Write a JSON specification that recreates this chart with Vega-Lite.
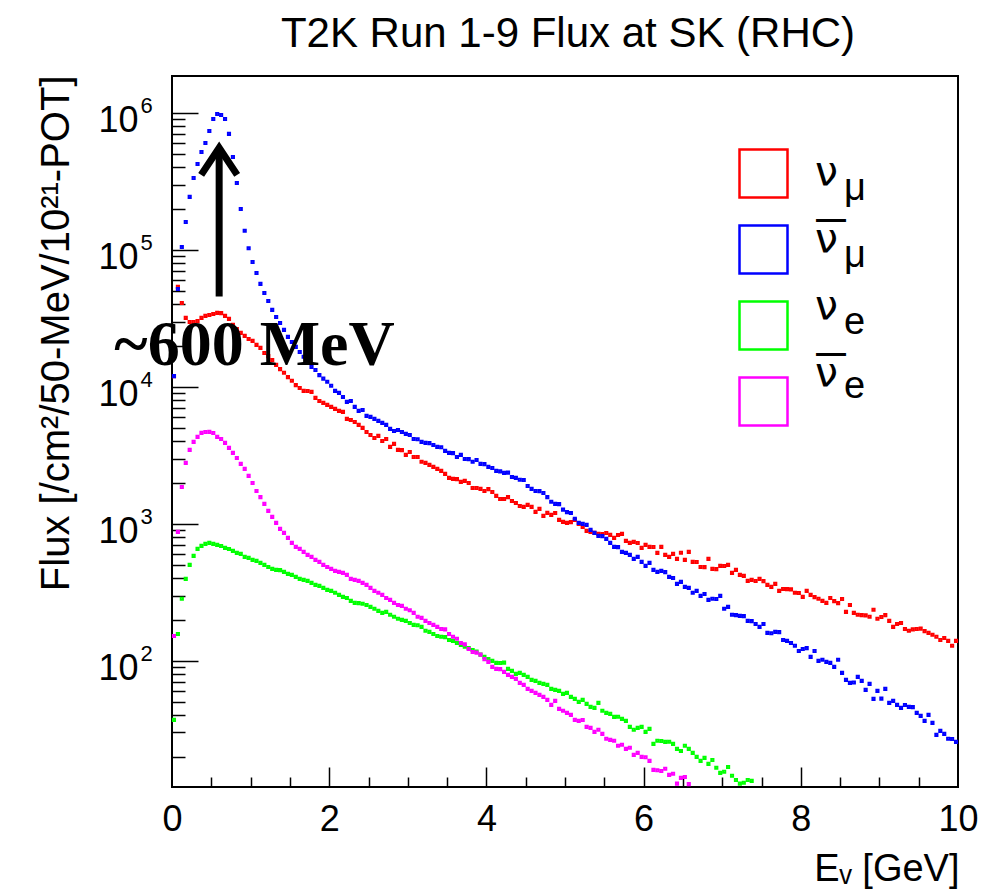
{
"$schema": "https://vega.github.io/schema/vega-lite/v6.json",
"width": 786, "height": 711,
"autosize": {"type": "none"},
"padding": {"left": 172, "top": 76, "right": 35, "bottom": 107},
"background": "white",
"title": {"text": "T2K Run 1-9 Flux at SK (RHC)", "font": "Liberation Sans", "fontSize": 42, "fontWeight": "normal", "color": "black", "anchor": "middle", "frame": "group", "baseline": "alphabetic", "offset": 25, "dx": 3, "dy": 39},
"config": {
  "view": {"stroke": "black", "strokeWidth": 2},
  "axis": {"domain": false, "grid": false, "labelColor": "black", "tickColor": "black", "titleColor": "black", "labelFont": "Liberation Sans", "titleFont": "Liberation Sans", "titleFontWeight": "normal", "labelOverlap": false, "labelFlush": false}
},
"datasets": {"flux": [
{"e":0.025,"f":12000,"s":"numu"},{"e":0.075,"f":53700,"s":"numu"},{"e":0.125,"f":41000,"s":"numu"},{"e":0.175,"f":31900,"s":"numu"},{"e":0.225,"f":29800,"s":"numu"},{"e":0.275,"f":29800,"s":"numu"},{"e":0.325,"f":30300,"s":"numu"},{"e":0.375,"f":31900,"s":"numu"},{"e":0.425,"f":33000,"s":"numu"},{"e":0.475,"f":33500,"s":"numu"},
{"e":0.525,"f":34100,"s":"numu"},{"e":0.575,"f":34700,"s":"numu"},{"e":0.625,"f":34600,"s":"numu"},{"e":0.675,"f":33000,"s":"numu"},{"e":0.725,"f":31400,"s":"numu"},{"e":0.775,"f":28400,"s":"numu"},{"e":0.825,"f":26500,"s":"numu"},{"e":0.875,"f":24800,"s":"numu"},{"e":0.925,"f":23600,"s":"numu"},{"e":0.975,"f":22400,"s":"numu"},
{"e":1.025,"f":21700,"s":"numu"},{"e":1.075,"f":20300,"s":"numu"},{"e":1.125,"f":19300,"s":"numu"},{"e":1.175,"f":17700,"s":"numu"},{"e":1.225,"f":16800,"s":"numu"},{"e":1.275,"f":15700,"s":"numu"},{"e":1.325,"f":14500,"s":"numu"},{"e":1.375,"f":13500,"s":"numu"},{"e":1.425,"f":12700,"s":"numu"},{"e":1.475,"f":11800,"s":"numu"},
{"e":1.525,"f":11100,"s":"numu"},{"e":1.575,"f":10300,"s":"numu"},{"e":1.625,"f":9830,"s":"numu"},{"e":1.675,"f":9350,"s":"numu"},{"e":1.725,"f":9340,"s":"numu"},{"e":1.775,"f":9200,"s":"numu"},{"e":1.825,"f":8310,"s":"numu"},{"e":1.875,"f":7900,"s":"numu"},{"e":1.925,"f":7640,"s":"numu"},{"e":1.975,"f":7390,"s":"numu"},
{"e":2.025,"f":7150,"s":"numu"},{"e":2.075,"f":6910,"s":"numu"},{"e":2.125,"f":6680,"s":"numu"},{"e":2.175,"f":6570,"s":"numu"},{"e":2.225,"f":5840,"s":"numu"},{"e":2.275,"f":5740,"s":"numu"},{"e":2.325,"f":5550,"s":"numu"},{"e":2.375,"f":5280,"s":"numu"},{"e":2.425,"f":5020,"s":"numu"},{"e":2.475,"f":4690,"s":"numu"},
{"e":2.525,"f":4460,"s":"numu"},{"e":2.575,"f":4240,"s":"numu"},{"e":2.625,"f":4390,"s":"numu"},{"e":2.675,"f":4030,"s":"numu"},{"e":2.725,"f":4170,"s":"numu"},{"e":2.775,"f":3650,"s":"numu"},{"e":2.825,"f":3840,"s":"numu"},{"e":2.875,"f":3470,"s":"numu"},{"e":2.925,"f":3460,"s":"numu"},{"e":2.975,"f":3190,"s":"numu"},
{"e":3.025,"f":3350,"s":"numu"},{"e":3.075,"f":3080,"s":"numu"},{"e":3.125,"f":3080,"s":"numu"},{"e":3.175,"f":2840,"s":"numu"},{"e":3.225,"f":2790,"s":"numu"},{"e":3.275,"f":2700,"s":"numu"},{"e":3.325,"f":2610,"s":"numu"},{"e":3.375,"f":2520,"s":"numu"},{"e":3.425,"f":2440,"s":"numu"},{"e":3.475,"f":2320,"s":"numu"},
{"e":3.525,"f":2170,"s":"numu"},{"e":3.575,"f":2130,"s":"numu"},{"e":3.625,"f":2125,"s":"numu"},{"e":3.675,"f":2025,"s":"numu"},{"e":3.725,"f":2060,"s":"numu"},{"e":3.775,"f":1990,"s":"numu"},{"e":3.825,"f":1830,"s":"numu"},{"e":3.875,"f":1828,"s":"numu"},{"e":3.925,"f":1800,"s":"numu"},{"e":3.975,"f":1740,"s":"numu"},
{"e":4.025,"f":1795,"s":"numu"},{"e":4.075,"f":1710,"s":"numu"},{"e":4.125,"f":1600,"s":"numu"},{"e":4.175,"f":1520,"s":"numu"},{"e":4.225,"f":1520,"s":"numu"},{"e":4.275,"f":1570,"s":"numu"},{"e":4.325,"f":1470,"s":"numu"},{"e":4.375,"f":1420,"s":"numu"},{"e":4.425,"f":1350,"s":"numu"},{"e":4.475,"f":1330,"s":"numu"},
{"e":4.525,"f":1376,"s":"numu"},{"e":4.575,"f":1330,"s":"numu"},{"e":4.625,"f":1224,"s":"numu"},{"e":4.675,"f":1287,"s":"numu"},{"e":4.725,"f":1145,"s":"numu"},{"e":4.775,"f":1204,"s":"numu"},{"e":4.825,"f":1164,"s":"numu"},{"e":4.875,"f":1200,"s":"numu"},{"e":4.925,"f":1070,"s":"numu"},{"e":4.975,"f":1034,"s":"numu"},
{"e":5.025,"f":1017,"s":"numu"},{"e":5.075,"f":1030,"s":"numu"},{"e":5.125,"f":1068,"s":"numu"},{"e":5.175,"f":1000,"s":"numu"},{"e":5.225,"f":951,"s":"numu"},{"e":5.275,"f":889,"s":"numu"},{"e":5.325,"f":874,"s":"numu"},{"e":5.375,"f":860,"s":"numu"},{"e":5.425,"f":845,"s":"numu"},{"e":5.475,"f":843,"s":"numu"},
{"e":5.525,"f":858,"s":"numu"},{"e":5.575,"f":831,"s":"numu"},{"e":5.625,"f":790,"s":"numu"},{"e":5.675,"f":829,"s":"numu"},{"e":5.725,"f":845,"s":"numu"},{"e":5.775,"f":752,"s":"numu"},{"e":5.825,"f":727,"s":"numu"},{"e":5.875,"f":739,"s":"numu"},{"e":5.925,"f":725,"s":"numu"},{"e":5.975,"f":668,"s":"numu"},
{"e":6.025,"f":703,"s":"numu"},{"e":6.075,"f":679,"s":"numu"},{"e":6.125,"f":678,"s":"numu"},{"e":6.175,"f":614,"s":"numu"},{"e":6.225,"f":680,"s":"numu"},{"e":6.275,"f":594,"s":"numu"},{"e":6.325,"f":574,"s":"numu"},{"e":6.375,"f":604,"s":"numu"},{"e":6.425,"f":555,"s":"numu"},{"e":6.475,"f":616,"s":"numu"},
{"e":6.525,"f":546,"s":"numu"},{"e":6.575,"f":625,"s":"numu"},{"e":6.625,"f":528,"s":"numu"},{"e":6.675,"f":527,"s":"numu"},{"e":6.725,"f":485,"s":"numu"},{"e":6.775,"f":484,"s":"numu"},{"e":6.825,"f":556,"s":"numu"},{"e":6.875,"f":469,"s":"numu"},{"e":6.925,"f":468,"s":"numu"},{"e":6.975,"f":494,"s":"numu"},
{"e":7.025,"f":493,"s":"numu"},{"e":7.075,"f":502,"s":"numu"},{"e":7.125,"f":439,"s":"numu"},{"e":7.175,"f":462,"s":"numu"},{"e":7.225,"f":424,"s":"numu"},{"e":7.275,"f":417,"s":"numu"},{"e":7.325,"f":384,"s":"numu"},{"e":7.375,"f":390,"s":"numu"},{"e":7.425,"f":383,"s":"numu"},{"e":7.475,"f":397,"s":"numu"},
{"e":7.525,"f":382,"s":"numu"},{"e":7.575,"f":359,"s":"numu"},{"e":7.625,"f":347,"s":"numu"},{"e":7.675,"f":365,"s":"numu"},{"e":7.725,"f":324,"s":"numu"},{"e":7.775,"f":335,"s":"numu"},{"e":7.825,"f":334,"s":"numu"},{"e":7.875,"f":333,"s":"numu"},{"e":7.925,"f":314,"s":"numu"},{"e":7.975,"f":313,"s":"numu"},
{"e":8.025,"f":293,"s":"numu"},{"e":8.075,"f":324,"s":"numu"},{"e":8.125,"f":303,"s":"numu"},{"e":8.175,"f":292,"s":"numu"},{"e":8.225,"f":284,"s":"numu"},{"e":8.275,"f":274,"s":"numu"},{"e":8.325,"f":265,"s":"numu"},{"e":8.375,"f":288,"s":"numu"},{"e":8.425,"f":273,"s":"numu"},{"e":8.475,"f":264,"s":"numu"},
{"e":8.525,"f":283,"s":"numu"},{"e":8.575,"f":228,"s":"numu"},{"e":8.625,"f":256,"s":"numu"},{"e":8.675,"f":224,"s":"numu"},{"e":8.725,"f":217,"s":"numu"},{"e":8.775,"f":216,"s":"numu"},{"e":8.825,"f":215,"s":"numu"},{"e":8.875,"f":210,"s":"numu"},{"e":8.925,"f":236,"s":"numu"},{"e":8.975,"f":203,"s":"numu"},
{"e":9.025,"f":209,"s":"numu"},{"e":9.075,"f":216,"s":"numu"},{"e":9.125,"f":196,"s":"numu"},{"e":9.175,"f":177,"s":"numu"},{"e":9.225,"f":186,"s":"numu"},{"e":9.275,"f":189,"s":"numu"},{"e":9.325,"f":171,"s":"numu"},{"e":9.375,"f":166,"s":"numu"},{"e":9.425,"f":170,"s":"numu"},{"e":9.475,"f":171,"s":"numu"},
{"e":9.525,"f":172,"s":"numu"},{"e":9.575,"f":165,"s":"numu"},{"e":9.625,"f":160,"s":"numu"},{"e":9.675,"f":155,"s":"numu"},{"e":9.725,"f":150,"s":"numu"},{"e":9.775,"f":142,"s":"numu"},{"e":9.825,"f":147,"s":"numu"},{"e":9.875,"f":140,"s":"numu"},{"e":9.925,"f":129,"s":"numu"},{"e":9.975,"f":140,"s":"numu"},
{"e":0.025,"f":12000,"s":"numubar"},{"e":0.075,"f":51900,"s":"numubar"},{"e":0.125,"f":105000,"s":"numubar"},{"e":0.175,"f":160000,"s":"numubar"},{"e":0.225,"f":244000,"s":"numubar"},{"e":0.275,"f":335000,"s":"numubar"},{"e":0.325,"f":424000,"s":"numubar"},{"e":0.375,"f":519000,"s":"numubar"},{"e":0.425,"f":604000,"s":"numubar"},{"e":0.475,"f":739000,"s":"numubar"},
{"e":0.525,"f":904000,"s":"numubar"},{"e":0.575,"f":983000,"s":"numubar"},{"e":0.625,"f":967000,"s":"numubar"},{"e":0.675,"f":904000,"s":"numubar"},{"e":0.725,"f":703000,"s":"numubar"},{"e":0.775,"f":477000,"s":"numubar"},{"e":0.825,"f":308000,"s":"numubar"},{"e":0.875,"f":199000,"s":"numubar"},{"e":0.925,"f":138000,"s":"numubar"},{"e":0.975,"f":103000,"s":"numubar"},
{"e":1.025,"f":81700,"s":"numubar"},{"e":1.075,"f":67900,"s":"numubar"},{"e":1.125,"f":56500,"s":"numubar"},{"e":1.175,"f":48500,"s":"numubar"},{"e":1.225,"f":42400,"s":"numubar"},{"e":1.275,"f":36500,"s":"numubar"},{"e":1.325,"f":32400,"s":"numubar"},{"e":1.375,"f":29300,"s":"numubar"},{"e":1.425,"f":26100,"s":"numubar"},{"e":1.475,"f":23200,"s":"numubar"},
{"e":1.525,"f":21300,"s":"numubar"},{"e":1.575,"f":19600,"s":"numubar"},{"e":1.625,"f":18000,"s":"numubar"},{"e":1.675,"f":16600,"s":"numubar"},{"e":1.725,"f":15200,"s":"numubar"},{"e":1.775,"f":14000,"s":"numubar"},{"e":1.825,"f":13300,"s":"numubar"},{"e":1.875,"f":12200,"s":"numubar"},{"e":1.925,"f":11500,"s":"numubar"},{"e":1.975,"f":10900,"s":"numubar"},
{"e":2.025,"f":10200,"s":"numubar"},{"e":2.075,"f":9350,"s":"numubar"},{"e":2.125,"f":9040,"s":"numubar"},{"e":2.175,"f":8450,"s":"numubar"},{"e":2.225,"f":7770,"s":"numubar"},{"e":2.275,"f":7900,"s":"numubar"},{"e":2.325,"f":7150,"s":"numubar"},{"e":2.375,"f":6680,"s":"numubar"},{"e":2.425,"f":6790,"s":"numubar"},{"e":2.475,"f":6140,"s":"numubar"},
{"e":2.525,"f":6040,"s":"numubar"},{"e":2.575,"f":5840,"s":"numubar"},{"e":2.625,"f":5650,"s":"numubar"},{"e":2.675,"f":5460,"s":"numubar"},{"e":2.725,"f":5280,"s":"numubar"},{"e":2.775,"f":4940,"s":"numubar"},{"e":2.825,"f":4770,"s":"numubar"},{"e":2.875,"f":4850,"s":"numubar"},{"e":2.925,"f":4690,"s":"numubar"},{"e":2.975,"f":4540,"s":"numubar"},
{"e":3.025,"f":4460,"s":"numubar"},{"e":3.075,"f":4170,"s":"numubar"},{"e":3.125,"f":4150,"s":"numubar"},{"e":3.175,"f":3970,"s":"numubar"},{"e":3.225,"f":3900,"s":"numubar"},{"e":3.275,"f":3890,"s":"numubar"},{"e":3.325,"f":3770,"s":"numubar"},{"e":3.375,"f":3650,"s":"numubar"},{"e":3.425,"f":3630,"s":"numubar"},{"e":3.475,"f":3410,"s":"numubar"},
{"e":3.525,"f":3300,"s":"numubar"},{"e":3.575,"f":3290,"s":"numubar"},{"e":3.625,"f":3080,"s":"numubar"},{"e":3.675,"f":3190,"s":"numubar"},{"e":3.725,"f":2980,"s":"numubar"},{"e":3.775,"f":2970,"s":"numubar"},{"e":3.825,"f":2840,"s":"numubar"},{"e":3.875,"f":2930,"s":"numubar"},{"e":3.925,"f":2740,"s":"numubar"},{"e":3.975,"f":2730,"s":"numubar"},
{"e":4.025,"f":2610,"s":"numubar"},{"e":4.075,"f":2560,"s":"numubar"},{"e":4.125,"f":2440,"s":"numubar"},{"e":4.175,"f":2420,"s":"numubar"},{"e":4.225,"f":2360,"s":"numubar"},{"e":4.275,"f":2370,"s":"numubar"},{"e":4.325,"f":2200,"s":"numubar"},{"e":4.375,"f":2170,"s":"numubar"},{"e":4.425,"f":2100,"s":"numubar"},{"e":4.475,"f":2090,"s":"numubar"},
{"e":4.525,"f":1890,"s":"numubar"},{"e":4.575,"f":1800,"s":"numubar"},{"e":4.625,"f":1740,"s":"numubar"},{"e":4.675,"f":1735,"s":"numubar"},{"e":4.725,"f":1680,"s":"numubar"},{"e":4.775,"f":1570,"s":"numubar"},{"e":4.825,"f":1450,"s":"numubar"},{"e":4.875,"f":1400,"s":"numubar"},{"e":4.925,"f":1395,"s":"numubar"},{"e":4.975,"f":1270,"s":"numubar"},
{"e":5.025,"f":1220,"s":"numubar"},{"e":5.075,"f":1200,"s":"numubar"},{"e":5.125,"f":1090,"s":"numubar"},{"e":5.175,"f":1017,"s":"numubar"},{"e":5.225,"f":1000,"s":"numubar"},{"e":5.275,"f":983,"s":"numubar"},{"e":5.325,"f":904,"s":"numubar"},{"e":5.375,"f":860,"s":"numubar"},{"e":5.425,"f":817,"s":"numubar"},{"e":5.475,"f":815,"s":"numubar"},
{"e":5.525,"f":777,"s":"numubar"},{"e":5.575,"f":727,"s":"numubar"},{"e":5.625,"f":679,"s":"numubar"},{"e":5.675,"f":677,"s":"numubar"},{"e":5.725,"f":625,"s":"numubar"},{"e":5.775,"f":614,"s":"numubar"},{"e":5.825,"f":594,"s":"numubar"},{"e":5.875,"f":555,"s":"numubar"},{"e":5.925,"f":574,"s":"numubar"},{"e":5.975,"f":528,"s":"numubar"},
{"e":6.025,"f":494,"s":"numubar"},{"e":6.075,"f":519,"s":"numubar"},{"e":6.125,"f":462,"s":"numubar"},{"e":6.175,"f":446,"s":"numubar"},{"e":6.225,"f":454,"s":"numubar"},{"e":6.275,"f":445,"s":"numubar"},{"e":6.325,"f":410,"s":"numubar"},{"e":6.375,"f":403,"s":"numubar"},{"e":6.425,"f":365,"s":"numubar"},{"e":6.475,"f":377,"s":"numubar"},
{"e":6.525,"f":347,"s":"numubar"},{"e":6.575,"f":341,"s":"numubar"},{"e":6.625,"f":314,"s":"numubar"},{"e":6.675,"f":324,"s":"numubar"},{"e":6.725,"f":298,"s":"numubar"},{"e":6.775,"f":308,"s":"numubar"},{"e":6.825,"f":279,"s":"numubar"},{"e":6.875,"f":284,"s":"numubar"},{"e":6.925,"f":283,"s":"numubar"},{"e":6.975,"f":298,"s":"numubar"},
{"e":7.025,"f":240,"s":"numubar"},{"e":7.075,"f":248,"s":"numubar"},{"e":7.125,"f":217,"s":"numubar"},{"e":7.175,"f":216,"s":"numubar"},{"e":7.225,"f":213,"s":"numubar"},{"e":7.275,"f":212,"s":"numubar"},{"e":7.325,"f":196,"s":"numubar"},{"e":7.375,"f":195,"s":"numubar"},{"e":7.425,"f":186,"s":"numubar"},{"e":7.475,"f":177,"s":"numubar"},
{"e":7.525,"f":186,"s":"numubar"},{"e":7.575,"f":160,"s":"numubar"},{"e":7.625,"f":159,"s":"numubar"},{"e":7.675,"f":163,"s":"numubar"},{"e":7.725,"f":162,"s":"numubar"},{"e":7.775,"f":142,"s":"numubar"},{"e":7.825,"f":140,"s":"numubar"},{"e":7.875,"f":135,"s":"numubar"},{"e":7.925,"f":129,"s":"numubar"},{"e":7.975,"f":118,"s":"numubar"},
{"e":8.025,"f":122,"s":"numubar"},{"e":8.075,"f":124,"s":"numubar"},{"e":8.125,"f":107,"s":"numubar"},{"e":8.175,"f":118,"s":"numubar"},{"e":8.225,"f":100,"s":"numubar"},{"e":8.275,"f":102,"s":"numubar"},{"e":8.325,"f":98.3,"s":"numubar"},{"e":8.375,"f":96.7,"s":"numubar"},{"e":8.425,"f":90.4,"s":"numubar"},{"e":8.475,"f":102,"s":"numubar"},
{"e":8.525,"f":81.7,"s":"numubar"},{"e":8.575,"f":72.7,"s":"numubar"},{"e":8.625,"f":69.1,"s":"numubar"},{"e":8.675,"f":69.5,"s":"numubar"},{"e":8.725,"f":76.4,"s":"numubar"},{"e":8.775,"f":71.5,"s":"numubar"},{"e":8.825,"f":61.4,"s":"numubar"},{"e":8.875,"f":67.9,"s":"numubar"},{"e":8.925,"f":52.8,"s":"numubar"},{"e":8.975,"f":60.4,"s":"numubar"},
{"e":9.025,"f":53.0,"s":"numubar"},{"e":9.075,"f":62.5,"s":"numubar"},{"e":9.125,"f":49.4,"s":"numubar"},{"e":9.175,"f":51.1,"s":"numubar"},{"e":9.225,"f":47.7,"s":"numubar"},{"e":9.275,"f":45.4,"s":"numubar"},{"e":9.325,"f":47.6,"s":"numubar"},{"e":9.375,"f":46.2,"s":"numubar"},{"e":9.425,"f":46.0,"s":"numubar"},{"e":9.475,"f":41.7,"s":"numubar"},
{"e":9.525,"f":39.7,"s":"numubar"},{"e":9.575,"f":36.5,"s":"numubar"},{"e":9.625,"f":40.3,"s":"numubar"},{"e":9.675,"f":35.3,"s":"numubar"},{"e":9.725,"f":28.8,"s":"numubar"},{"e":9.775,"f":30.8,"s":"numubar"},{"e":9.825,"f":29.3,"s":"numubar"},{"e":9.875,"f":27.0,"s":"numubar"},{"e":9.925,"f":26.9,"s":"numubar"},{"e":9.975,"f":25.6,"s":"numubar"},
{"e":0.025,"f":37.1,"s":"nue"},{"e":0.075,"f":157,"s":"nue"},{"e":0.125,"f":284,"s":"nue"},{"e":0.175,"f":397,"s":"nue"},{"e":0.225,"f":502,"s":"nue"},{"e":0.275,"f":584,"s":"nue"},{"e":0.325,"f":657,"s":"nue"},{"e":0.375,"f":691,"s":"nue"},{"e":0.425,"f":715,"s":"nue"},{"e":0.475,"f":727,"s":"nue"},
{"e":0.525,"f":714,"s":"nue"},{"e":0.575,"f":703,"s":"nue"},{"e":0.625,"f":690,"s":"nue"},{"e":0.675,"f":668,"s":"nue"},{"e":0.725,"f":656,"s":"nue"},{"e":0.775,"f":635,"s":"nue"},{"e":0.825,"f":614,"s":"nue"},{"e":0.875,"f":604,"s":"nue"},{"e":0.925,"f":574,"s":"nue"},{"e":0.975,"f":565,"s":"nue"},
{"e":1.025,"f":546,"s":"nue"},{"e":1.075,"f":537,"s":"nue"},{"e":1.125,"f":519,"s":"nue"},{"e":1.175,"f":502,"s":"nue"},{"e":1.225,"f":485,"s":"nue"},{"e":1.275,"f":469,"s":"nue"},{"e":1.325,"f":462,"s":"nue"},{"e":1.375,"f":460,"s":"nue"},{"e":1.425,"f":446,"s":"nue"},{"e":1.475,"f":432,"s":"nue"},
{"e":1.525,"f":424,"s":"nue"},{"e":1.575,"f":410,"s":"nue"},{"e":1.625,"f":397,"s":"nue"},{"e":1.675,"f":390,"s":"nue"},{"e":1.725,"f":384,"s":"nue"},{"e":1.775,"f":371,"s":"nue"},{"e":1.825,"f":359,"s":"nue"},{"e":1.875,"f":353,"s":"nue"},{"e":1.925,"f":341,"s":"nue"},{"e":1.975,"f":330,"s":"nue"},
{"e":2.025,"f":324,"s":"nue"},{"e":2.075,"f":314,"s":"nue"},{"e":2.125,"f":303,"s":"nue"},{"e":2.175,"f":293,"s":"nue"},{"e":2.225,"f":288,"s":"nue"},{"e":2.275,"f":274,"s":"nue"},{"e":2.325,"f":265,"s":"nue"},{"e":2.375,"f":264,"s":"nue"},{"e":2.425,"f":261,"s":"nue"},{"e":2.475,"f":256,"s":"nue"},
{"e":2.525,"f":248,"s":"nue"},{"e":2.575,"f":240,"s":"nue"},{"e":2.625,"f":232,"s":"nue"},{"e":2.675,"f":224,"s":"nue"},{"e":2.725,"f":228,"s":"nue"},{"e":2.775,"f":217,"s":"nue"},{"e":2.825,"f":210,"s":"nue"},{"e":2.875,"f":203,"s":"nue"},{"e":2.925,"f":199,"s":"nue"},{"e":2.975,"f":196,"s":"nue"},
{"e":3.025,"f":189,"s":"nue"},{"e":3.075,"f":183,"s":"nue"},{"e":3.125,"f":182,"s":"nue"},{"e":3.175,"f":177,"s":"nue"},{"e":3.225,"f":166,"s":"nue"},{"e":3.275,"f":163,"s":"nue"},{"e":3.325,"f":157,"s":"nue"},{"e":3.375,"f":152,"s":"nue"},{"e":3.425,"f":150,"s":"nue"},{"e":3.475,"f":149,"s":"nue"},
{"e":3.525,"f":142,"s":"nue"},{"e":3.575,"f":140,"s":"nue"},{"e":3.625,"f":135,"s":"nue"},{"e":3.675,"f":131,"s":"nue"},{"e":3.725,"f":127,"s":"nue"},{"e":3.775,"f":124,"s":"nue"},{"e":3.825,"f":120,"s":"nue"},{"e":3.875,"f":117,"s":"nue"},{"e":3.925,"f":111,"s":"nue"},{"e":3.975,"f":107,"s":"nue"},
{"e":4.025,"f":103,"s":"nue"},{"e":4.075,"f":100,"s":"nue"},{"e":4.125,"f":96.7,"s":"nue"},{"e":4.175,"f":96.5,"s":"nue"},{"e":4.225,"f":97.0,"s":"nue"},{"e":4.275,"f":87.4,"s":"nue"},{"e":4.325,"f":84.5,"s":"nue"},{"e":4.375,"f":80.4,"s":"nue"},{"e":4.425,"f":81.7,"s":"nue"},{"e":4.475,"f":79.0,"s":"nue"},
{"e":4.525,"f":76.4,"s":"nue"},{"e":4.575,"f":72.7,"s":"nue"},{"e":4.625,"f":71.5,"s":"nue"},{"e":4.675,"f":69.1,"s":"nue"},{"e":4.725,"f":67.9,"s":"nue"},{"e":4.775,"f":66.8,"s":"nue"},{"e":4.825,"f":62.5,"s":"nue"},{"e":4.875,"f":61.4,"s":"nue"},{"e":4.925,"f":60.4,"s":"nue"},{"e":4.975,"f":57.4,"s":"nue"},
{"e":5.025,"f":58.4,"s":"nue"},{"e":5.075,"f":54.6,"s":"nue"},{"e":5.125,"f":52.8,"s":"nue"},{"e":5.175,"f":50.2,"s":"nue"},{"e":5.225,"f":51.9,"s":"nue"},{"e":5.275,"f":48.5,"s":"nue"},{"e":5.325,"f":46.2,"s":"nue"},{"e":5.375,"f":45.4,"s":"nue"},{"e":5.425,"f":49.4,"s":"nue"},{"e":5.475,"f":43.2,"s":"nue"},
{"e":5.525,"f":41.7,"s":"nue"},{"e":5.575,"f":41.0,"s":"nue"},{"e":5.625,"f":39.0,"s":"nue"},{"e":5.675,"f":39.1,"s":"nue"},{"e":5.725,"f":37.7,"s":"nue"},{"e":5.775,"f":36.5,"s":"nue"},{"e":5.825,"f":33.0,"s":"nue"},{"e":5.875,"f":31.4,"s":"nue"},{"e":5.925,"f":32.4,"s":"nue"},{"e":5.975,"f":33.0,"s":"nue"},
{"e":6.025,"f":30.3,"s":"nue"},{"e":6.075,"f":31.9,"s":"nue"},{"e":6.125,"f":24.8,"s":"nue"},{"e":6.175,"f":26.1,"s":"nue"},{"e":6.225,"f":26.0,"s":"nue"},{"e":6.275,"f":25.6,"s":"nue"},{"e":6.325,"f":25.7,"s":"nue"},{"e":6.375,"f":24.8,"s":"nue"},{"e":6.425,"f":22.8,"s":"nue"},{"e":6.475,"f":22.0,"s":"nue"},
{"e":6.525,"f":24.0,"s":"nue"},{"e":6.575,"f":22.8,"s":"nue"},{"e":6.625,"f":21.3,"s":"nue"},{"e":6.675,"f":19.9,"s":"nue"},{"e":6.725,"f":18.6,"s":"nue"},{"e":6.775,"f":19.6,"s":"nue"},{"e":6.825,"f":17.7,"s":"nue"},{"e":6.875,"f":18.9,"s":"nue"},{"e":6.925,"f":16.6,"s":"nue"},{"e":6.975,"f":15.2,"s":"nue"},
{"e":7.025,"f":15.5,"s":"nue"},{"e":7.075,"f":16.8,"s":"nue"},{"e":7.125,"f":14.5,"s":"nue"},{"e":7.175,"f":13.5,"s":"nue"},{"e":7.225,"f":12.7,"s":"nue"},{"e":7.275,"f":12.9,"s":"nue"},{"e":7.325,"f":13.5,"s":"nue"},{"e":7.375,"f":13.3,"s":"nue"},
{"e":0.025,"f":152,"s":"nuebar"},{"e":0.075,"f":874,"s":"nuebar"},{"e":0.125,"f":1860,"s":"nuebar"},{"e":0.175,"f":2790,"s":"nuebar"},{"e":0.225,"f":3470,"s":"nuebar"},{"e":0.275,"f":3970,"s":"nuebar"},{"e":0.325,"f":4320,"s":"nuebar"},{"e":0.375,"f":4620,"s":"nuebar"},{"e":0.425,"f":4690,"s":"nuebar"},{"e":0.475,"f":4700,"s":"nuebar"},
{"e":0.525,"f":4610,"s":"nuebar"},{"e":0.575,"f":4320,"s":"nuebar"},{"e":0.625,"f":4170,"s":"nuebar"},{"e":0.675,"f":3900,"s":"nuebar"},{"e":0.725,"f":3590,"s":"nuebar"},{"e":0.775,"f":3300,"s":"nuebar"},{"e":0.825,"f":3030,"s":"nuebar"},{"e":0.875,"f":2740,"s":"nuebar"},{"e":0.925,"f":2520,"s":"nuebar"},{"e":0.975,"f":2240,"s":"nuebar"},
{"e":1.025,"f":1990,"s":"nuebar"},{"e":1.075,"f":1740,"s":"nuebar"},{"e":1.125,"f":1570,"s":"nuebar"},{"e":1.175,"f":1400,"s":"nuebar"},{"e":1.225,"f":1245,"s":"nuebar"},{"e":1.275,"f":1125,"s":"nuebar"},{"e":1.325,"f":1017,"s":"nuebar"},{"e":1.375,"f":920,"s":"nuebar"},{"e":1.425,"f":860,"s":"nuebar"},{"e":1.475,"f":790,"s":"nuebar"},
{"e":1.525,"f":727,"s":"nuebar"},{"e":1.575,"f":679,"s":"nuebar"},{"e":1.625,"f":657,"s":"nuebar"},{"e":1.675,"f":625,"s":"nuebar"},{"e":1.725,"f":594,"s":"nuebar"},{"e":1.775,"f":574,"s":"nuebar"},{"e":1.825,"f":546,"s":"nuebar"},{"e":1.875,"f":528,"s":"nuebar"},{"e":1.925,"f":502,"s":"nuebar"},{"e":1.975,"f":485,"s":"nuebar"},
{"e":2.025,"f":469,"s":"nuebar"},{"e":2.075,"f":454,"s":"nuebar"},{"e":2.125,"f":446,"s":"nuebar"},{"e":2.175,"f":439,"s":"nuebar"},{"e":2.225,"f":424,"s":"nuebar"},{"e":2.275,"f":397,"s":"nuebar"},{"e":2.325,"f":390,"s":"nuebar"},{"e":2.375,"f":384,"s":"nuebar"},{"e":2.425,"f":371,"s":"nuebar"},{"e":2.475,"f":359,"s":"nuebar"},
{"e":2.525,"f":341,"s":"nuebar"},{"e":2.575,"f":324,"s":"nuebar"},{"e":2.625,"f":314,"s":"nuebar"},{"e":2.675,"f":303,"s":"nuebar"},{"e":2.725,"f":288,"s":"nuebar"},{"e":2.775,"f":279,"s":"nuebar"},{"e":2.825,"f":265,"s":"nuebar"},{"e":2.875,"f":256,"s":"nuebar"},{"e":2.925,"f":252,"s":"nuebar"},{"e":2.975,"f":240,"s":"nuebar"},
{"e":3.025,"f":234,"s":"nuebar"},{"e":3.075,"f":224,"s":"nuebar"},{"e":3.125,"f":210,"s":"nuebar"},{"e":3.175,"f":206,"s":"nuebar"},{"e":3.225,"f":196,"s":"nuebar"},{"e":3.275,"f":189,"s":"nuebar"},{"e":3.325,"f":183,"s":"nuebar"},{"e":3.375,"f":177,"s":"nuebar"},{"e":3.425,"f":171,"s":"nuebar"},{"e":3.475,"f":170,"s":"nuebar"},
{"e":3.525,"f":157,"s":"nuebar"},{"e":3.575,"f":150,"s":"nuebar"},{"e":3.625,"f":145,"s":"nuebar"},{"e":3.675,"f":135,"s":"nuebar"},{"e":3.725,"f":132,"s":"nuebar"},{"e":3.775,"f":122,"s":"nuebar"},{"e":3.825,"f":116,"s":"nuebar"},{"e":3.875,"f":115,"s":"nuebar"},{"e":3.925,"f":111,"s":"nuebar"},{"e":3.975,"f":103,"s":"nuebar"},
{"e":4.025,"f":98.3,"s":"nuebar"},{"e":4.075,"f":90.4,"s":"nuebar"},{"e":4.125,"f":87.4,"s":"nuebar"},{"e":4.175,"f":87.0,"s":"nuebar"},{"e":4.225,"f":83.1,"s":"nuebar"},{"e":4.275,"f":79.0,"s":"nuebar"},{"e":4.325,"f":76.4,"s":"nuebar"},{"e":4.375,"f":73.9,"s":"nuebar"},{"e":4.425,"f":69.1,"s":"nuebar"},{"e":4.475,"f":66.8,"s":"nuebar"},
{"e":4.525,"f":62.5,"s":"nuebar"},{"e":4.575,"f":60.4,"s":"nuebar"},{"e":4.625,"f":58.4,"s":"nuebar"},{"e":4.675,"f":56.5,"s":"nuebar"},{"e":4.725,"f":54.6,"s":"nuebar"},{"e":4.775,"f":51.9,"s":"nuebar"},{"e":4.825,"f":47.7,"s":"nuebar"},{"e":4.875,"f":51.1,"s":"nuebar"},{"e":4.925,"f":44.6,"s":"nuebar"},{"e":4.975,"f":43.2,"s":"nuebar"},
{"e":5.025,"f":41.7,"s":"nuebar"},{"e":5.075,"f":40.3,"s":"nuebar"},{"e":5.125,"f":37.1,"s":"nuebar"},{"e":5.175,"f":36.5,"s":"nuebar"},{"e":5.225,"f":37.0,"s":"nuebar"},{"e":5.275,"f":33.0,"s":"nuebar"},{"e":5.325,"f":32.4,"s":"nuebar"},{"e":5.375,"f":30.3,"s":"nuebar"},{"e":5.425,"f":31.4,"s":"nuebar"},{"e":5.475,"f":29.3,"s":"nuebar"},
{"e":5.525,"f":27.0,"s":"nuebar"},{"e":5.575,"f":26.5,"s":"nuebar"},{"e":5.625,"f":26.1,"s":"nuebar"},{"e":5.675,"f":24.0,"s":"nuebar"},{"e":5.725,"f":24.4,"s":"nuebar"},{"e":5.775,"f":22.8,"s":"nuebar"},{"e":5.825,"f":23.2,"s":"nuebar"},{"e":5.875,"f":20.6,"s":"nuebar"},{"e":5.925,"f":21.3,"s":"nuebar"},{"e":5.975,"f":19.9,"s":"nuebar"},
{"e":6.025,"f":19.8,"s":"nuebar"},{"e":6.075,"f":18.6,"s":"nuebar"},{"e":6.125,"f":16.0,"s":"nuebar"},{"e":6.175,"f":15.9,"s":"nuebar"},{"e":6.225,"f":15.7,"s":"nuebar"},{"e":6.275,"f":16.3,"s":"nuebar"},{"e":6.325,"f":14.7,"s":"nuebar"},{"e":6.375,"f":15.0,"s":"nuebar"},{"e":6.425,"f":12.7,"s":"nuebar"},{"e":6.475,"f":14.0,"s":"nuebar"},
{"e":6.525,"f":14.2,"s":"nuebar"},{"e":6.575,"f":12.6,"s":"nuebar"}
]},
"resolve": {"axis": {"x": "independent", "y": "independent"}},
"layer": [
{
  "data": {"name": "flux"},
  "mark": {"type": "square", "filled": false, "size": 5, "strokeWidth": 1.9, "opacity": 1},
  "encoding": {
    "x": {"field": "e", "type": "quantitative", "scale": {"domain": [0, 10], "nice": false, "zero": false},
      "axis": {"orient": "bottom", "values": [0, 2, 4, 6, 8, 10], "ticks": false, "tickSize": 0, "labelPadding": 15, "labelFontSize": 36, "format": "d",
        "title": "E\u1d65 [GeV]", "titleFontSize": 38, "titleAlign": "right", "titleBaseline": "alphabetic", "titleX": 787, "titleY": 93}},
    "y": {"field": "f", "type": "quantitative", "scale": {"type": "log", "domain": [12, 1862000], "nice": false},
      "axis": {"orient": "left", "values": [100, 1000, 10000, 100000, 1000000], "labelExpr": "'10'", "ticks": false, "tickSize": 0, "labelPadding": 34, "labelAlign": "right", "labelBaseline": "alphabetic", "labelOffset": 19, "labelFontSize": 36,
        "title": "Flux [/cm\u00b2/50-MeV/10\u00b2\u00b9-POT]", "titleFontSize": 40, "titleAngle": 270, "titleAlign": "right", "titleBaseline": "alphabetic", "titleX": -104, "titleY": -1}},
    "color": {"field": "s", "type": "nominal",
      "scale": {"domain": ["numu", "numubar", "nue", "nuebar"], "range": ["#ff0000", "#0000ff", "#00ff00", "#ff00ff"]},
      "legend": {"orient": "none", "legendX": 566, "legendY": 72, "title": null, "symbolType": "square", "symbolSize": 2304, "symbolStrokeWidth": 2.5, "padding": 0, "rowPadding": 17,
        "labelExpr": "''", "labelFontSize": 41, "labelOffset": 26, "labelColor": "black"}}
  }
},
{
  "data": {"values": [{"e": 0.6, "lo": 45700, "hi": 556000}]},
  "mark": {"type": "rule", "strokeWidth": 7, "color": "black"},
  "encoding": {
    "x": {"field": "e", "type": "quantitative", "scale": {"domain": [0, 10], "nice": false, "zero": false},
      "axis": {"orient": "bottom", "values": [0.5, 1, 1.5, 2.5, 3, 3.5, 4.5, 5, 5.5, 6.5, 7, 7.5, 8.5, 9, 9.5], "labels": false, "tickSize": -10, "tickWidth": 1.5, "title": null}},
    "y": {"field": "lo", "type": "quantitative", "scale": {"type": "log", "domain": [12, 1862000], "nice": false},
      "axis": {"orient": "left", "values": [20,30,40,50,60,70,80,90,200,300,400,500,600,700,800,900,2000,3000,4000,5000,6000,7000,8000,9000,20000,30000,40000,50000,60000,70000,80000,90000,200000,300000,400000,500000,600000,700000,800000,900000], "labels": false, "tickSize": -13, "tickWidth": 1.5, "title": null}},
    "y2": {"field": "hi"}
  }
},
{
  "data": {"values": [{"e": 0.6, "f": 556000}]},
  "mark": {"type": "point", "shape": "M-1,1.5L0,0L1,1.5", "size": 1296, "filled": false, "stroke": "black", "strokeWidth": 7, "strokeJoin": "miter", "opacity": 1},
  "encoding": {
    "x": {"field": "e", "type": "quantitative", "scale": {"domain": [0, 10], "nice": false, "zero": false},
      "axis": {"orient": "bottom", "values": [2, 4, 6, 8], "labels": false, "tickSize": -20, "tickWidth": 1.5, "title": null}},
    "y": {"field": "f", "type": "quantitative", "scale": {"type": "log", "domain": [12, 1862000], "nice": false},
      "axis": {"orient": "left", "values": [100, 1000, 10000, 100000, 1000000], "labels": false, "tickSize": -26, "tickWidth": 1.5, "title": null}}
  }
},
{
  "data": {"values": [{"e": 1.05, "f": 14500, "t": "~600 MeV"}]},
  "mark": {"type": "text", "font": "Liberation Serif", "fontWeight": "bold", "fontSize": 64, "align": "center", "baseline": "alphabetic", "color": "black"},
  "encoding": {
    "x": {"field": "e", "type": "quantitative", "scale": {"domain": [0, 10], "nice": false, "zero": false}, "axis": null},
    "y": {"field": "f", "type": "quantitative", "scale": {"type": "log", "domain": [12, 1862000], "nice": false},
      "axis": {"orient": "left", "values": [100, 1000, 10000, 100000, 1000000], "labelExpr": "format(round(log(datum.value)/LN10), 'd')", "ticks": false, "tickSize": 0, "labelPadding": 32, "labelAlign": "left", "labelBaseline": "alphabetic", "labelOffset": 0, "labelFontSize": 22, "title": null}},
    "text": {"field": "t"}
  }
},
{
  "data": {"values": [{"n": "1"}, {"n": "2"}, {"n": "3"}, {"n": "4"}]},
  "mark": {"type": "point", "opacity": 0},
  "encoding": {
    "fill": {"field": "n", "type": "nominal",
      "legend": {"orient": "none", "legendX": 566, "legendY": 71, "title": null, "symbolType": "square", "symbolSize": 2304, "symbolStrokeWidth": 2.5, "symbolOpacity": 0, "padding": 0, "rowPadding": 17,
        "labelExpr": "'\u03bd'", "labelFont": "DejaVu Sans", "labelFontSize": 41, "labelOffset": 26, "labelColor": "black"}}
  }
},
{
  "data": {"values": [{"k": "1\u03bc"}, {"k": "2\u03bc"}, {"k": "3e"}, {"k": "4e"}]},
  "mark": {"type": "point", "opacity": 0},
  "encoding": {
    "shape": {"field": "k", "type": "nominal",
      "legend": {"orient": "none", "legendX": 566, "legendY": 87, "title": null, "symbolSize": 2304, "symbolStrokeWidth": 2.5, "symbolOpacity": 0, "padding": 0, "rowPadding": 17,
        "labelExpr": "substring(datum.label, 1)", "labelFont": "Liberation Sans", "labelFontSize": 38, "labelOffset": 55, "labelColor": "black"}}
  }
},
{
  "data": {"values": [{"b": "1"}, {"b": "2\u2014"}, {"b": "3"}, {"b": "4\u2014"}]},
  "mark": {"type": "point", "opacity": 0},
  "encoding": {
    "strokeDash": {"field": "b", "type": "nominal",
      "legend": {"orient": "none", "legendX": 566, "legendY": 51, "title": null, "symbolType": "square", "symbolSize": 2304, "symbolStrokeWidth": 2.5, "symbolOpacity": 0, "padding": 0, "rowPadding": 17,
        "labelExpr": "substring(datum.label, 1)", "labelFont": "Liberation Sans", "labelFontSize": 30, "labelFontWeight": "bold", "labelOffset": 27, "labelColor": "black"}}
  }
}
]
}
